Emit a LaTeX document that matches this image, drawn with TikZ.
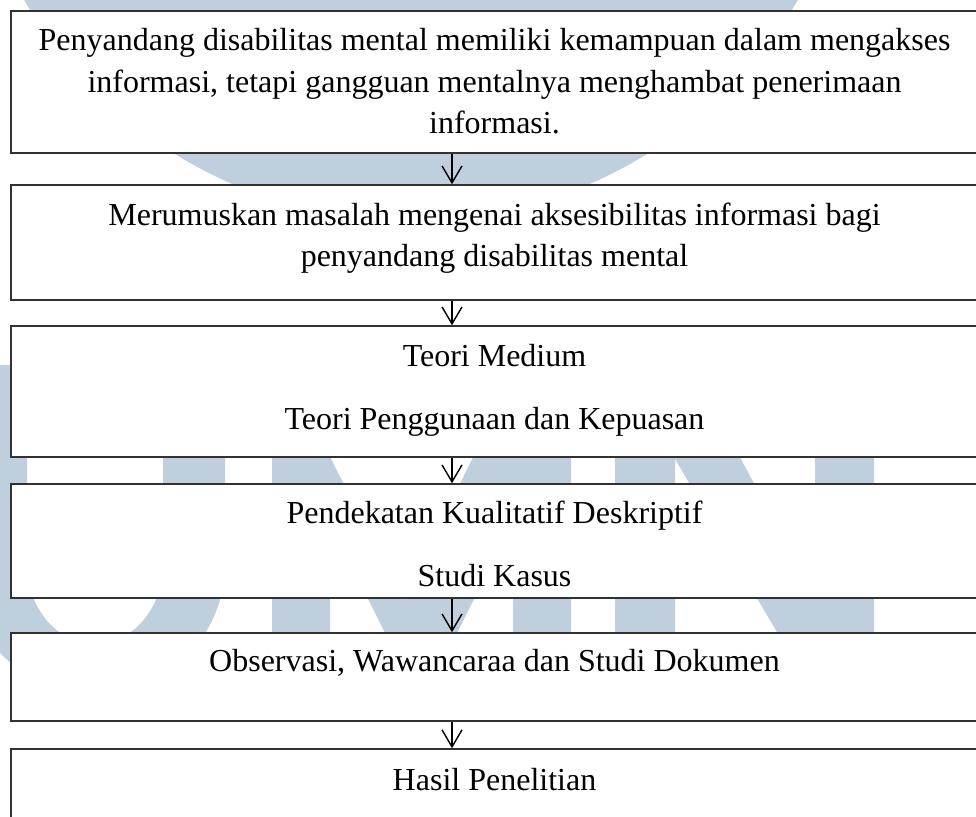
\documentclass[tikz,border=0pt]{standalone}
\usepackage{fontspec}
\setmainfont{Liberation Serif}
\usetikzlibrary{arrows.meta}
\definecolor{wm}{RGB}{192,207,221}
\definecolor{edge}{RGB}{50,50,50}
\tikzset{
  box/.style={draw=edge, line width=1.5pt, fill=white, rectangle, inner sep=0pt, minimum width=967pt},
  txt/.style={anchor=base, inner sep=0pt, font=\fontsize{32}{38}\selectfont},
  arr/.style={draw=black, line width=1.4pt, -{Straight Barb[length=17pt,width=20pt,line width=1.4pt]}}
}
\begin{document}
\begin{tikzpicture}[x=1pt,y=-1pt]
\useasboundingbox (0,0) rectangle (976,816);
% watermark
\fill[wm] (411,-228) circle (449pt);
\fill[wm] (-35,365) -- (27,365) -- (27,564) arc[start angle=180,end angle=360,x radius=68pt,y radius=80pt] -- (163,365) -- (225,365) -- (225,564) arc[start angle=0,end angle=-180,x radius=130pt,y radius=130pt] -- cycle;
\fill[wm] (272,365) -- (284,365) -- (402,600) -- (519,365) -- (571,365) -- (571,695) -- (513,695) -- (513,521) -- (426,695) -- (416,695) -- (330,523) -- (330,695) -- (272,695) -- cycle;
\fill[wm] (615,365) -- (691,365) -- (815,598) -- (815,365) -- (874,365) -- (874,695) -- (814,695) -- (675,459) -- (675,695) -- (615,695) -- cycle;
% boxes
\node[box, minimum height=142pt] (b1) at (494.5,82) {};
\node[box, minimum height=115pt] (b2) at (494.5,242.5) {};
\node[box, minimum height=131pt] (b3) at (494.5,391.5) {};
\node[box, minimum height=114pt] (b4) at (494.5,541) {};
\node[box, minimum height=88pt] (b5) at (494.5,677) {};
\node[box, minimum height=81pt] (b6) at (494.5,789.5) {};
% arrows
\coordinate (ax) at (452,0);
\draw[arr] (b1.south -| ax) -- (b2.north -| ax);
\draw[arr] (b2.south -| ax) -- (b3.north -| ax);
\draw[arr] (b3.south -| ax) -- (b4.north -| ax);
\draw[arr] (b4.south -| ax) -- (b5.north -| ax);
\draw[arr] (b5.south -| ax) -- (b6.north -| ax);
% texts
\node[txt] (t1a) at (494.5,51) {Penyandang disabilitas mental memiliki kemampuan dalam mengakses};
\node[txt] (t1b) at (494.5,92) {informasi, tetapi gangguan mentalnya menghambat penerimaan};
\node[txt] (t1c) at (494.5,133) {informasi.};
\node[txt] (t2a) at (494.5,225) {Merumuskan masalah mengenai aksesibilitas informasi bagi};
\node[txt] (t2b) at (494.5,266.5) {penyandang disabilitas mental};
\node[txt] (t3a) at (494.5,366) {Teori Medium};
\node[txt] (t3b) at (494.5,429) {Teori Penggunaan dan Kepuasan};
\node[txt] (t4a) at (494.5,523) {Pendekatan Kualitatif Deskriptif};
\node[txt] (t4b) at (494.5,586.5) {Studi Kasus};
\node[txt] (t5) at (494.5,671) {Observasi, Wawancaraa dan Studi Dokumen};
\node[txt] (t6) at (494.5,790) {Hasil Penelitian};
\end{tikzpicture}
\end{document}
